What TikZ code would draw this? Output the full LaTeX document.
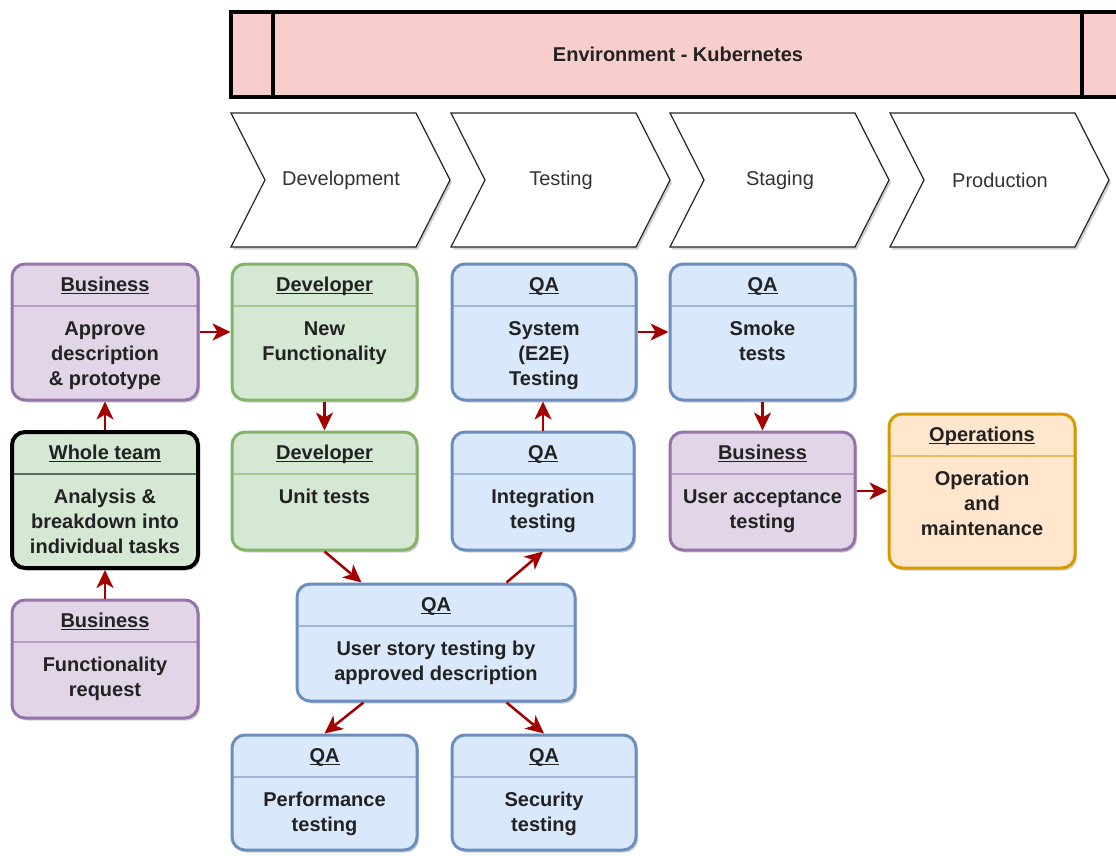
\documentclass[tikz,border=0pt]{standalone}
\usepackage{fontspec}
\setmainfont{Liberation Sans}
\usetikzlibrary{shadows,calc,arrows.meta}

\definecolor{purfill}{HTML}{E1D5E7}
\definecolor{purline}{HTML}{9673A6}
\definecolor{grnfill}{HTML}{D5E8D4}
\definecolor{grnline}{HTML}{82B366}
\definecolor{blufill}{HTML}{DAE8FC}
\definecolor{bluline}{HTML}{6C8EBF}
\definecolor{orgfill}{HTML}{FFE6CC}
\definecolor{orgline}{HTML}{D79B00}
\definecolor{envfill}{HTML}{F8CECC}
\definecolor{arrc}{HTML}{A50000}
\definecolor{txt}{HTML}{222222}

% underlined heading with a heavier rule
\newcommand\hdr[1]{{\setbox0\hbox{#1}\rlap{\copy0}\rule[-3pt]{\wd0}{1.3pt}}}

% \card{name}{style}{x1}{y1}{x2}{y2}{heading}{body}
\newcommand\card[8]{%
  \node[card,#2,minimum width={(#5)-(#3)},minimum height={(#6)-(#4)}]
    (#1) at ({((#3)+(#5))/2},{((#4)+(#6))/2}) {};
  \draw[#2,hline] (#3,#4+42) -- (#5,#4+42);
  \node[hdrtext] (#1-h) at ({((#3)+(#5))/2},#4+27) {\hdr{#7}};
  \node[bodytext] (#1-b) at ({((#3)+(#5))/2},#4+54) {\strut #8};
}

\tikzset{
  shade/.style={drop shadow={shadow xshift=2pt,shadow yshift=-2.5pt,opacity=0.3,fill=black!60}},
  card/.style={rectangle,rounded corners=13pt,line width=3pt,shade,inner sep=0pt},
  pur/.style={fill=purfill,draw=purline},
  grn/.style={fill=grnfill,draw=grnline},
  blu/.style={fill=blufill,draw=bluline},
  org/.style={fill=orgfill,draw=orgline},
  team/.style={fill=grnfill,draw=black,line width=4pt},
  hline/.style={line width=1.1pt,draw opacity=0.55,fill=none},
  hdrtext/.style={anchor=base,inner sep=0pt,text=txt,font=\fontsize{20}{25}\selectfont\bfseries},
  bodytext/.style={anchor=north,align=center,inner sep=0pt,text=txt,font=\fontsize{20}{25}\selectfont\bfseries},
  chev/.style={fill=white,draw=black!85,line width=1.2pt,shade},
  chevtext/.style={text=black!80,font=\fontsize{20}{24}\selectfont},
  banner/.style={fill=envfill,draw=black,line width=4pt,shade},
  arr/.style={draw=arrc,line width=2.5pt,-{Stealth[length=18pt,width=17pt,inset=5pt]}},
}

\begin{document}
\begin{tikzpicture}[x=1pt,y=-1pt]
\fill[white] (0,0) rectangle (1116,856);
\useasboundingbox (0,0) rectangle (1116,856);

% environment banner
\draw[banner] (231,12) rectangle (1140,97);
\draw[line width=4pt] (273,12) -- (273,97) (1082,12) -- (1082,97);
\node[text=txt,font=\fontsize{20}{24}\selectfont\bfseries] (env) at (678,54) {Environment - Kubernetes};

% pipeline stages
\foreach \x/\lab/\nm in {231/Development/dev,451/Testing/tst,670/Staging/stg,890/Production/prd}{
  \filldraw[chev] (\x,113) -- ++(185,0) -- ++(34,67) -- ++(-34,67) -- ++(-185,0) -- ++(34,-67) -- cycle;
  \node[chevtext] (ph-\nm) at (\x+110,180) {\lab};
}

% activity cards
\card{b1}{pur}{12}{264}{198}{400}{Business}{Approve\\description\\\& prototype}
\card{dev1}{grn}{232}{264}{417}{400}{Developer}{New\\Functionality}
\card{sys}{blu}{452}{264}{636}{400}{QA}{System\\(E2E)\\Testing}
\card{smoke}{blu}{670}{264}{855}{400}{QA}{Smoke\\tests}
\card{wt}{team}{12}{432}{198}{568}{Whole team}{Analysis \&\\breakdown into\\individual tasks}
\card{ut}{grn}{232}{432}{417}{550}{Developer}{Unit tests}
\card{int}{blu}{452}{432}{634}{550}{QA}{Integration\\testing}
\card{uat}{pur}{670}{432}{855}{550}{Business}{User acceptance\\testing}
\card{ops}{org}{889}{414}{1075}{568}{Operations}{Operation\\and\\maintenance}
\card{fr}{pur}{12}{600}{198}{718}{Business}{Functionality\\request}
\card{us}{blu}{297}{584}{575}{701}{QA}{User story testing by\\approved description}
\card{perf}{blu}{232}{735}{417}{850}{QA}{Performance\\testing}
\card{sec}{blu}{452}{735}{636}{850}{QA}{Security\\testing}

% flow
\draw[arr] (fr.north) -- (wt.south);
\draw[arr] (wt.north) -- (b1.south);
\draw[arr] (b1.east) -- (dev1.west);
\draw[arr] (dev1.south) -- (ut.north);
\draw[arr] (ut.south) -- ($(us.north west)+(66,0)$);
\draw[arr] ($(us.north east)+(-70,0)$) -- (int.south);
\draw[arr] (int.north) -- (int.north |- sys.south);
\draw[arr] (sys.east) -- (smoke.west);
\draw[arr] (smoke.south) -- (uat.north);
\draw[arr] (uat.east) -- (ops.west |- uat.east);
\draw[arr] ($(us.south west)+(68,0)$) -- (perf.north);
\draw[arr] ($(us.south east)+(-70,0)$) -- (sec.north);
\end{tikzpicture}
\end{document}
